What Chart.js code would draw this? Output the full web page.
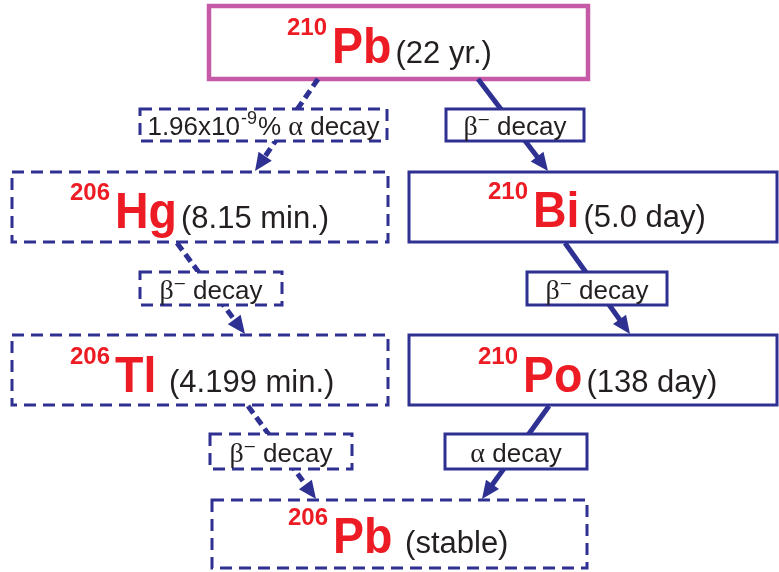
<!DOCTYPE html>
<html>
<head>
<meta charset="utf-8">
<script src="https://cdn.jsdelivr.net/npm/chart.js@4"></script>
<style>
  body { margin: 0; background: #fff; }
  #wrap { width: 779px; height: 572px; }
</style>
</head>
<body>
<div id="wrap"><canvas id="decayChart" width="779" height="572"></canvas></div>
<script>
// nuclides of the chain
const massNumbers = ['210', '206', '210', '206', '210', '206'];
const nuclideSymbols = ['Pb', 'Hg', 'Bi', 'Tl', 'Po', 'Pb'];
const halfLives = ['(22 yr.)', '(8.15 min.)', '(5.0 day)', ' (4.199 min.)', '(138 day)', ' (stable)'];

// decays (index into the nuclide arrays)
const decayFrom = [0, 0, 1, 2, 3, 4];
const decayTo = [1, 2, 3, 4, 5, 5];
const decayLabels = ['1.96x10^{-9}% α decay', 'β^{-} decay', 'β^{-} decay', 'β^{-} decay', 'β^{-} decay', 'α decay'];

// layout (canvas units)
const nodeBox = [[209, 6, 588, 79], [12, 172, 388, 242], [409, 172, 777, 242], [12, 335, 388, 405], [409, 335, 777, 405], [212, 500, 587, 568]];
const nodeTextX = [287, 70, 488, 70, 478, 288];
const nodeBaseline = [63, 228, 227, 392, 392, 553];
const nodeStyle = ['magenta', 'dash', 'solid', 'dash', 'solid', 'dash'];
const labelBox = [[140, 109, 387, 141], [446, 109, 584, 141], [140, 272, 282, 305], [527, 272, 667, 305], [210, 434, 352, 469], [445, 434, 587, 469]];
const arrowStart = [[318, 79], [478, 79], [177, 243], [565, 243], [248, 406], [549, 406]];
const arrowEnd = [[255, 171], [548, 171], [245, 334], [630, 334], [316, 499], [482, 499]];
const arrowDashed = [true, false, true, false, true, false];

const BLUE = '#2e3192';
const RED = '#ed1c24';
const MAGENTA = '#c55aa6';
const INK = '#231f20';
const SANS = '"Liberation Sans", Arial, sans-serif';
const SERIF = '"Liberation Serif", "Times New Roman", serif';

// shafts stop a bit before the tip, the head is drawn by the plugin
const HEAD = 18;
const datasets = decayFrom.map((f, i) => {
    const [x0, y0] = arrowStart[i];
    const [x1, y1] = arrowEnd[i];
    const len = Math.hypot(x1 - x0, y1 - y0);
    const k = (len - HEAD + 2) / len;
    return {
        label: nuclideSymbols[f] + '→' + nuclideSymbols[decayTo[i]],
        data: [{ x: x0, y: y0 }, { x: x0 + (x1 - x0) * k, y: y0 + (y1 - y0) * k }],
        showLine: true,
        borderColor: BLUE,
        borderWidth: 5,
        borderDash: arrowDashed[i] ? [9, 5] : [],
        pointRadius: 0,
        borderCapStyle: 'butt'
    };
});

function drawBox(ctx, sx, sy, box, style) {
    const x0 = sx.getPixelForValue(box[0]), y0 = sy.getPixelForValue(box[1]);
    const x1 = sx.getPixelForValue(box[2]), y1 = sy.getPixelForValue(box[3]);
    ctx.save();
    ctx.fillStyle = '#fff';
    ctx.fillRect(x0, y0, x1 - x0, y1 - y0);
    if (style === 'magenta') {
        ctx.strokeStyle = MAGENTA;
        ctx.lineWidth = 4.5;
    } else {
        ctx.strokeStyle = BLUE;
        ctx.lineWidth = 3;
        if (style === 'dash') ctx.setLineDash([12, 7]);
    }
    ctx.strokeRect(x0, y0, x1 - x0, y1 - y0);
    ctx.restore();
}

// split a label like "β^{-} decay" into runs
function labelRuns(str) {
    const runs = [];
    str.split(/(\^\{[^}]*\})/).forEach(part => {
        if (!part) return;
        if (part.startsWith('^{')) {
            const t = part.slice(2, -1);
            runs.push({ t: t === '-' ? '\u2013' : t, font: '18px ' + SANS, dy: -11, pad: 2 });
            return;
        }
        part.split(/([αβ])/).forEach(p => {
            if (!p) return;
            if (p === 'α' || p === 'β') runs.push({ t: p, font: '28px ' + SERIF, dy: 0, pad: 0 });
            else runs.push({ t: p, font: '26px ' + SANS, dy: 0, pad: 0 });
        });
    });
    return runs;
}

const diagramPlugin = {
    id: 'diagram',
    beforeDatasetsDraw(chart) {
        const { ctx, scales: { x, y } } = chart;
        nodeBox.forEach((b, i) => drawBox(ctx, x, y, b, nodeStyle[i]));

        ctx.save();
        ctx.textBaseline = 'alphabetic';
        nodeBox.forEach((b, i) => {
            let px = x.getPixelForValue(nodeTextX[i]);
            const base = y.getPixelForValue(nodeBaseline[i]);
            ctx.fillStyle = RED;
            ctx.font = 'bold 24px ' + SANS;
            ctx.fillText(massNumbers[i], px, base - 28);
            px += ctx.measureText(massNumbers[i]).width + 5;
            ctx.font = 'bold 50px ' + SANS;
            const w = ctx.measureText(nuclideSymbols[i]).width * 0.93;
            ctx.save();
            ctx.translate(px, base);
            ctx.scale(0.93, 1);
            ctx.fillText(nuclideSymbols[i], 0, 0);
            ctx.restore();
            px += w + 4;
            ctx.fillStyle = INK;
            ctx.font = '31px ' + SANS;
            ctx.fillText(halfLives[i], px, base);
        });
        ctx.restore();
    },
    afterDatasetsDraw(chart) {
        const { ctx, scales: { x, y } } = chart;
        // arrow heads
        ctx.save();
        ctx.fillStyle = BLUE;
        arrowEnd.forEach((e, i) => {
            const sx = x.getPixelForValue(arrowStart[i][0]), sy = y.getPixelForValue(arrowStart[i][1]);
            const tx = x.getPixelForValue(e[0]), ty = y.getPixelForValue(e[1]);
            const a = Math.atan2(ty - sy, tx - sx);
            ctx.beginPath();
            ctx.moveTo(tx, ty);
            ctx.lineTo(tx - HEAD * Math.cos(a) + 8 * Math.sin(a), ty - HEAD * Math.sin(a) - 8 * Math.cos(a));
            ctx.lineTo(tx - HEAD * Math.cos(a) - 8 * Math.sin(a), ty - HEAD * Math.sin(a) + 8 * Math.cos(a));
            ctx.closePath();
            ctx.fill();
        });
        ctx.restore();

        // decay label boxes
        labelBox.forEach((b, i) => {
            drawBox(ctx, x, y, b, arrowDashed[i] ? 'dash' : 'solid');
            const runs = labelRuns(decayLabels[i]);
            ctx.save();
            ctx.fillStyle = INK;
            let total = 0;
            runs.forEach(r => { ctx.font = r.font; r.w = ctx.measureText(r.t).width + r.pad; total += r.w; });
            const cx = (x.getPixelForValue(b[0]) + x.getPixelForValue(b[2])) / 2;
            const cy = (y.getPixelForValue(b[1]) + y.getPixelForValue(b[3])) / 2;
            let px = cx - total / 2;
            runs.forEach(r => {
                ctx.font = r.font;
                ctx.fillText(r.t, px + r.pad / 2, cy + 10 + r.dy);
                px += r.w;
            });
            ctx.restore();
        });
    }
};

new Chart(document.getElementById('decayChart').getContext('2d'), {
    type: 'scatter',
    data: { datasets },
    options: {
        responsive: false,
        animation: false,
        layout: { padding: 0 },
        scales: {
            x: { type: 'linear', min: 0, max: 779, display: false },
            y: { type: 'linear', min: 0, max: 572, reverse: true, display: false }
        },
        plugins: { legend: { display: false }, tooltip: { enabled: false } }
    },
    plugins: [diagramPlugin]
});
</script>
</body>
</html>
